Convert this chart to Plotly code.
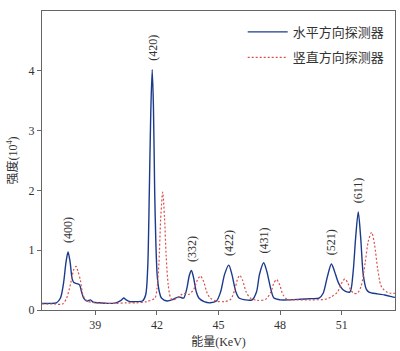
import plotly.graph_objects as go

# energy (KeV) and intensity (10^4) for the horizontal detector
h_energy = [36.4, 36.8, 37.1, 37.3, 37.45, 37.57, 37.67, 37.77, 37.87, 37.95, 38.1, 38.23,
            38.33, 38.43, 38.6, 38.76, 38.9, 39.2, 39.6, 40.0, 40.25, 40.38, 40.5, 40.7,
            41.0, 41.3, 41.45, 41.55, 41.63, 41.7, 41.77, 41.83, 41.89, 41.95, 42.02, 42.12,
            42.22, 42.5, 42.8, 43.06, 43.3, 43.45, 43.58, 43.68, 43.78, 43.92, 44.04, 44.3,
            44.6, 44.9, 45.1, 45.3, 45.5, 45.65, 45.85, 46.0, 46.3, 46.64, 46.85, 47.0,
            47.2, 47.35, 47.55, 47.7, 48.0, 48.5, 49.0, 49.5, 49.9, 50.1, 50.3, 50.5,
            50.65, 50.85, 51.1, 51.4, 51.55, 51.68, 51.81, 51.93, 52.05, 52.2, 52.33, 52.74,
            53.1, 53.47, 53.6]
h_counts = [0.11, 0.11, 0.12, 0.2, 0.45, 0.8, 0.97, 0.8, 0.52, 0.46, 0.44, 0.42,
            0.3, 0.2, 0.15, 0.17, 0.13, 0.12, 0.11, 0.12, 0.16, 0.2, 0.17, 0.14,
            0.14, 0.15, 0.25, 0.7, 2.0, 3.3, 4.02, 3.4, 2.0, 1.1, 0.55, 0.3,
            0.2, 0.15, 0.18, 0.22, 0.2, 0.35, 0.58, 0.66, 0.55, 0.3, 0.2, 0.14,
            0.12, 0.15, 0.3, 0.6, 0.75, 0.6, 0.3, 0.2, 0.17, 0.17, 0.3, 0.6,
            0.79, 0.65, 0.35, 0.2, 0.17, 0.17, 0.18, 0.19, 0.2, 0.28, 0.55, 0.77,
            0.65, 0.45, 0.33, 0.3, 0.6, 1.2, 1.64, 1.2, 0.6, 0.35, 0.3, 0.27,
            0.25, 0.22, 0.21]

# vertical detector
v_energy = [36.4, 37.0, 37.4, 37.6, 37.8, 37.95, 38.06, 38.15, 38.27, 38.4, 38.6, 39.0,
            39.5, 40.0, 40.5, 41.0, 41.5, 41.9, 42.0, 42.1, 42.18, 42.28, 42.37, 42.45,
            42.55, 42.65, 42.75, 43.0, 43.3, 43.55, 43.8, 43.97, 44.12, 44.27, 44.45, 44.6,
            44.9, 45.3, 45.6, 45.8, 45.93, 46.04, 46.17, 46.35, 46.55, 46.9, 47.3, 47.55,
            47.7, 47.83, 47.97, 48.15, 48.35, 48.8, 49.5, 50.2, 50.5, 50.8, 51.0, 51.16,
            51.3, 51.45, 51.6, 51.76, 51.95, 52.15, 52.3, 52.46, 52.6, 52.75, 52.9, 53.0,
            53.2, 53.39, 53.6]
v_counts = [0.1, 0.1, 0.1, 0.2, 0.45, 0.68, 0.73, 0.65, 0.5, 0.25, 0.15, 0.12,
            0.11, 0.11, 0.12, 0.12, 0.14, 0.2, 0.35, 0.8, 1.5, 1.97, 1.55, 0.9,
            0.42, 0.22, 0.17, 0.2, 0.28, 0.26, 0.35, 0.5, 0.57, 0.48, 0.28, 0.2,
            0.15, 0.14, 0.18, 0.35, 0.52, 0.58, 0.5, 0.3, 0.2, 0.16, 0.18, 0.3,
            0.45, 0.51, 0.43, 0.25, 0.18, 0.17, 0.17, 0.18, 0.22, 0.3, 0.45, 0.52,
            0.45, 0.33, 0.28, 0.28, 0.4, 0.8, 1.15, 1.3, 1.1, 0.7, 0.42, 0.36,
            0.3, 0.28, 0.28]

# peak indices (hkl) on the horizontal curve
peak_labels = ["(400)", "(420)", "(332)", "(422)", "(431)", "(521)", "(611)"]
peak_energy = [37.67, 41.77, 43.68, 45.5, 47.2, 50.5, 51.81]
peak_height = [0.97, 4.02, 0.66, 0.75, 0.79, 0.77, 1.64]

serif = "Liberation Serif, Times New Roman, serif"
cjk = "Liberation Serif, Noto Sans CJK SC, serif"

fig = go.Figure()
fig.add_trace(go.Scatter(
    x=h_energy, y=h_counts, mode="lines", name="水平方向探测器", legend="legend",
    line=dict(color="#1b3a8c", width=1.4, shape="spline", smoothing=0.8)
))
fig.add_trace(go.Scatter(
    x=v_energy, y=v_counts, mode="lines", name="竖直方向探测器", legend="legend2",
    line=dict(color="#d9504a", width=1.2, dash="2px,2px", shape="spline", smoothing=0.8)
))

for lab, px, py in zip(peak_labels, peak_energy, peak_height):
    fig.add_annotation(x=px, y=py, text=lab, showarrow=False, textangle=-90,
                       xanchor="center", yanchor="bottom", yshift=7,
                       font=dict(family=serif, size=12, color="#333"))

axis_common = dict(
    showline=True, linecolor="#666", linewidth=1, mirror=True, automargin=False,
    ticks="outside", ticklen=4, tickcolor="#666", showgrid=False, zeroline=False,
    tickfont=dict(family=serif, size=12, color="#333"),
)

legend_style = dict(xanchor="right", yanchor="middle", bgcolor="rgba(0,0,0,0)",
                    font=dict(family=cjk, size=13, color="#333"), itemwidth=40)

fig.update_layout(
    width=400, height=351,
    margin=dict(l=42, r=5, t=11, b=41),
    paper_bgcolor="white", plot_bgcolor="white",
    xaxis=dict(range=[36.4, 53.6], tickvals=[39, 42, 45, 48, 51],
               title=dict(text="能量(KeV)", font=dict(family=cjk, size=12, color="#333"), standoff=6),
               **axis_common),
    yaxis=dict(range=[0, 5], tickvals=[0, 1, 2, 3, 4],
               title=dict(text="强度(10<sup>4</sup>)", font=dict(family=cjk, size=12, color="#333"), standoff=8),
               **axis_common),
    legend=dict(x=0.985, y=0.93, **legend_style),
    legend2=dict(x=0.985, y=0.845, **legend_style),
    showlegend=True,
)

fig.write_html("out.html", config={"displayModeBar": False},
               post_script="document.body.style.margin='0px';")
